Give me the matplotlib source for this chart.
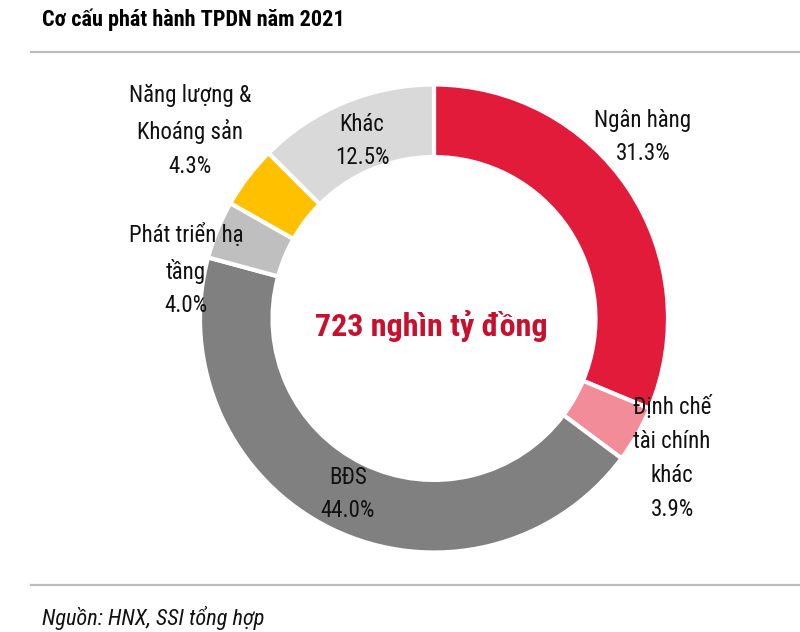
import matplotlib.pyplot as plt
from matplotlib.lines import Line2D

# ------------------------------
# Datos
# ------------------------------
nganh = ["Ngân hàng", "Định chế\ntài chính\nkhác", "BĐS",
         "Phát triển hạ\ntầng", "Năng lượng &\nKhoáng sản", "Khác"]
ty_trong = [31.3, 3.9, 44.0, 4.0, 4.3, 12.5]
mau = ["#E31B3B", "#F28C98", "#808080", "#BFBFBF", "#FFC000", "#D9D9D9"]

tong = "723 nghìn tỷ đồng"
tieu_de = "Cơ cấu phát hành TPDN năm 2021"
nguon = "Nguồn: HNX, SSI tổng hợp"

# vị trí nhãn (pixel của ảnh, gốc trên-trái)
vi_tri_nhan = [(643, 137), (672, 458), (348, 494), (186, 270), (190, 131), (362, 141)]

FONT = ["Liberation Sans Narrow", "Roboto Condensed", "Liberation Sans", "DejaVu Sans"]
W, H = 800, 632

fig = plt.figure(figsize=(8, 6.32), dpi=100)

# ------------------------------
# Donut
# ------------------------------
cx, cy, r = 434, 318.5, 234
ax = fig.add_axes([(cx - r) / W, (H - cy - r) / H, 2 * r / W, 2 * r / H])
ax.pie(ty_trong, colors=mau, startangle=90, counterclock=False, radius=1,
       wedgeprops=dict(width=0.31, edgecolor="white", linewidth=3))
ax.set_xlim(-1, 1)
ax.set_ylim(-1, 1)
ax.set_aspect("equal")
ax.axis("off")

ax.text(-0.01, -0.03, tong, ha="center", va="center", color="#C8102E",
        fontsize=23, fontweight="bold", family=FONT)

for ten, gt, (px, py) in zip(nganh, ty_trong, vi_tri_nhan):
    fig.text(px / W, 1 - py / H, f"{ten}\n{gt:.1f}%", ha="center", va="center",
             fontsize=16.5, family=FONT, color="#111111", linespacing=1.6)

# ------------------------------
# Tiêu đề, đường kẻ, nguồn
# ------------------------------
fig.text(42 / W, 1 - 20 / H, tieu_de, ha="left", va="center",
         fontsize=16, fontweight="bold", family=FONT)
for y in (52, 585):
    fig.add_artist(Line2D([31 / W, 1], [1 - y / H] * 2, color="#BDBDBD",
                          linewidth=1.6, transform=fig.transFigure))
fig.text(42 / W, 1 - 618 / H, nguon, ha="left", va="center",
         fontsize=16, style="italic", family=FONT, color="#111111")

fig.savefig("out.png", dpi=100)
